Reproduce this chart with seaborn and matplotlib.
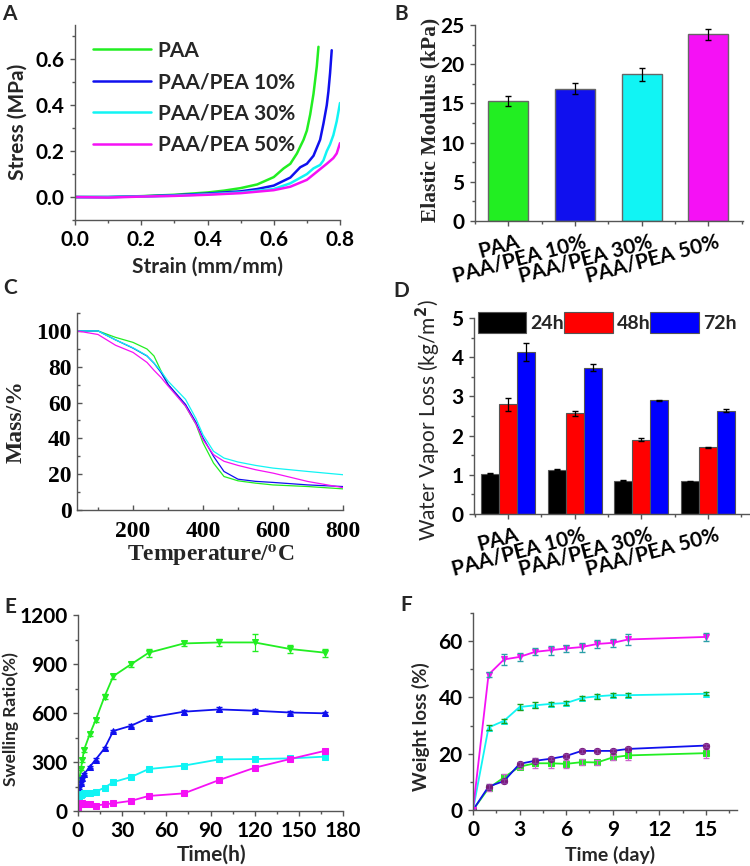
"""
Hydrogel characterisation panels (A-F) redrawn with seaborn
"""

import numpy as np
import pandas as pd
import matplotlib
matplotlib.use('Agg')
import matplotlib.pyplot as plt
import matplotlib.transforms as mtransforms
from matplotlib.ticker import MultipleLocator
import seaborn as sns

# ---------------- data ----------------
groups = ['PAA', 'PAA/PEA 10%', 'PAA/PEA 30%', 'PAA/PEA 50%']
colors = ['#22ee22', '#1010ee', '#11f4f4', '#f511f5']

# A: stress-strain
strain_paa = [0.0, 0.1, 0.2, 0.3, 0.4, 0.45, 0.5, 0.55, 0.6, 0.63, 0.65, 0.67, 0.69, 0.70, 0.71, 0.72, 0.73, 0.735]
stress_paa = [0.0, 0.0, 0.004, 0.01, 0.02, 0.028, 0.039, 0.055, 0.087, 0.125, 0.145, 0.19, 0.25, 0.29, 0.36, 0.45, 0.57, 0.655]
strain_10 = [0.0, 0.1, 0.2, 0.3, 0.4, 0.5, 0.55, 0.6, 0.65, 0.68, 0.70, 0.72, 0.74, 0.75, 0.76, 0.765, 0.77, 0.775]
stress_10 = [0.0, 0.0, 0.003, 0.008, 0.015, 0.025, 0.035, 0.05, 0.085, 0.13, 0.145, 0.18, 0.25, 0.32, 0.40, 0.46, 0.54, 0.64]
strain_30 = [0.0, 0.1, 0.2, 0.3, 0.4, 0.5, 0.6, 0.65, 0.70, 0.72, 0.74, 0.75, 0.76, 0.77, 0.78, 0.79, 0.80]
stress_30 = [0.0, 0.0, 0.002, 0.006, 0.012, 0.02, 0.035, 0.06, 0.10, 0.125, 0.14, 0.16, 0.2, 0.23, 0.27, 0.33, 0.41]
strain_50 = [0.0, 0.1, 0.2, 0.3, 0.4, 0.5, 0.6, 0.65, 0.70, 0.73, 0.76, 0.78, 0.79, 0.80]
stress_50 = [0.0, -0.002, 0.002, 0.005, 0.01, 0.017, 0.03, 0.045, 0.075, 0.11, 0.145, 0.17, 0.19, 0.235]

# B: elastic modulus
modulus = [15.3, 16.9, 18.7, 23.8]
modulus_err = [0.6, 0.7, 0.8, 0.7]

# C: TGA
temp = [40, 100, 150, 200, 240, 260, 280, 300, 350, 380, 400, 430, 460, 500, 550, 600, 700, 800]
mass_paa = [100, 100, 96.4, 93.6, 89.9, 86.0, 77.7, 70.2, 58.0, 47.8, 37.5, 26.2, 18.7, 16.3, 15.0, 14.0, 13.1, 11.8]
mass_10 = [100, 100, 95.0, 90.4, 86.0, 82.0, 76.8, 70.2, 59.0, 49.0, 40.3, 30.0, 21.5, 17.2, 16.0, 15.4, 14.0, 13.1]
mass_30 = [100, 100, 95.0, 90.6, 86.2, 82.0, 77.5, 72.0, 61.8, 51.0, 42.0, 32.8, 29.0, 26.8, 24.9, 23.4, 21.5, 19.7]
mass_50 = [100, 98.0, 92.0, 88.0, 82.4, 78.0, 74.0, 69.3, 58.0, 48.0, 39.3, 30.9, 27.2, 24.9, 22.5, 20.6, 15.9, 12.5]

# D: water vapour loss
wvl_times = ['24h', '48h', '72h']
wvl_24 = [1.03, 1.13, 0.85, 0.83]
wvl_48 = [2.80, 2.57, 1.90, 1.70]
wvl_72 = [4.14, 3.73, 2.90, 2.64]
wvl_24_err = [0.01, 0.02, 0.01, 0.01]
wvl_48_err = [0.17, 0.06, 0.04, 0.02]
wvl_72_err = [0.23, 0.09, 0.02, 0.03]

# E: swelling
swell_t = [0, 1, 2, 3, 4, 8, 12, 18, 24, 36, 48, 72, 96, 120, 144, 168]
swell_paa = [150, 200, 260, 310, 372, 471, 557, 700, 826, 898, 969, 1026, 1032, 1032, 992, 969]
swell_10 = [60, 140, 170, 205, 225, 270, 315, 383, 490, 522, 571, 608, 622, 614, 603, 598]
swell_30 = [40, 70, 95, 105, 108, 112, 118, 143, 177, 208, 257, 278, 316, 318, 322, 333]
swell_50 = [15, 40, 45, 48, 45, 42, 33, 41, 47, 62, 92, 108, 190, 265, 318, 369]
swell_paa_err = [10, 10, 12, 12, 12, 12, 15, 15, 15, 15, 25, 15, 20, 50, 25, 25]
swell_10_err = [5, 5, 6, 6, 6, 8, 8, 8, 8, 10, 10, 12, 12, 10, 10, 8]
swell_30_err = [4, 4, 4, 4, 4, 5, 5, 5, 6, 6, 6, 6, 6, 6, 6, 6]
swell_50_err = [3, 3, 3, 3, 3, 3, 3, 3, 4, 4, 5, 5, 6, 6, 6, 6]

# F: degradation
deg_t = [0, 1, 2, 3, 4, 5, 6, 7, 8, 9, 10, 15]
deg_paa = [0, 7.7, 11.6, 15.4, 16.6, 16.6, 16.4, 17.0, 16.9, 18.7, 19.4, 20.2]
deg_10 = [0, 8.3, 10.3, 16.4, 17.5, 18.2, 19.2, 21.0, 21.0, 21.0, 21.7, 22.9]
deg_30 = [0, 29.3, 31.7, 36.6, 37.2, 37.7, 38.0, 39.8, 40.4, 40.8, 40.8, 41.3]
deg_50 = [0, 48.1, 53.5, 54.4, 56.2, 56.8, 57.4, 57.9, 59.0, 59.4, 60.6, 61.5]
deg_paa_err = [0, 1.0, 1.2, 0.8, 1.6, 1.8, 1.4, 1.0, 1.0, 1.0, 1.5, 1.6]
deg_10_err = [0, 0.8, 0.6, 0.8, 0.8, 0.6, 0.6, 0.6, 0.6, 0.5, 0.6, 0.6]
deg_30_err = [0, 1.0, 0.8, 1.0, 1.0, 0.8, 0.8, 0.8, 0.8, 0.7, 0.7, 0.5]
deg_50_err = [0, 1.0, 1.8, 1.5, 1.2, 1.6, 1.4, 1.6, 1.3, 1.5, 2.0, 1.5]

# ---------------- style ----------------
sns.set_theme(style='ticks')
SANS = ['Lato', 'DejaVu Sans']
SERIF = ['Liberation Serif', 'DejaVu Serif']
plt.rcParams['font.family'] = SANS
plt.rcParams['font.weight'] = 'bold'
plt.rcParams['axes.labelweight'] = 'bold'
plt.rcParams['axes.edgecolor'] = '#555555'
plt.rcParams['axes.linewidth'] = 1.0
plt.rcParams['xtick.color'] = '#555555'
plt.rcParams['ytick.color'] = '#555555'
plt.rcParams['xtick.labelcolor'] = 'black'
plt.rcParams['ytick.labelcolor'] = 'black'

W, H = 750, 866
FS = 15


def box(l, t, r, b):
    return [l / W, 1 - b / H, (r - l) / W, (b - t) / H]


def style_axes(ax, direction='out', serif=False, size=FS):
    sns.despine(ax=ax)
    ax.tick_params(which='major', direction=direction, length=3.5, width=1, labelsize=size, pad=4)
    ax.tick_params(which='minor', direction=direction, length=2, width=1)
    fam = SERIF if serif else SANS
    for lab in ax.get_xticklabels() + ax.get_yticklabels():
        lab.set_family(fam)
        lab.set_weight('bold')


def place_labels(ax, box_px, ylab_right, ylab_cy, xlab_top=None, xlab_cx=None):
    l, t, r, b = box_px
    ax.yaxis.set_label_coords((ylab_right - l) / (r - l), (b - ylab_cy) / (b - t))
    if xlab_top is not None:
        ax.xaxis.set_label_coords((xlab_cx - l) / (r - l), (b - xlab_top) / (b - t))


def group_ticklabels(ax):
    ax.set_xticks(range(4), groups, rotation=15, ha='right', rotation_mode='anchor',
                  fontsize=FS, weight='bold')
    shift = mtransforms.ScaledTranslation(8 / 100, 0, fig.dpi_scale_trans)
    for lab in ax.get_xticklabels():
        lab.set_transform(lab.get_transform() + shift)


fig = plt.figure(figsize=(W / 100, H / 100), dpi=100)

# ---------------- A ----------------
bA = (75, 25, 340, 220)
axA = fig.add_axes(box(*bA))
curves = [(strain_paa, stress_paa), (strain_10, stress_10), (strain_30, stress_30), (strain_50, stress_50)]
for (sx, sy), c, g in zip(curves, colors, groups):
    sns.lineplot(x=sx, y=sy, color=c, linewidth=1.8, label=g, ax=axA)
axA.set_xlim(0, 0.8)
axA.set_ylim(-0.1, 0.75)
axA.xaxis.set_minor_locator(MultipleLocator(0.1))
axA.yaxis.set_minor_locator(MultipleLocator(0.1))
axA.set_xticks([0, 0.2, 0.4, 0.6, 0.8], ['0.0', '0.2', '0.4', '0.6', '0.8'])
axA.set_yticks([0, 0.2, 0.4, 0.6], ['0.0', '0.2', '0.4', '0.6'])
axA.set_xlabel('Strain (mm/mm)', fontsize=FS)
axA.set_ylabel('Stress (MPa)', fontsize=FS)
style_axes(axA)
place_labels(axA, bA, 28, 122, 257, 207)
leg = axA.legend(loc='upper left', bbox_to_anchor=(0.068, 0.92), frameon=False,
                 fontsize=FS, handlelength=2.8, handletextpad=0.3, labelspacing=0.55,
                 borderaxespad=0, borderpad=0)
for t in leg.get_texts():
    t.set_weight('bold')

# ---------------- B ----------------
bB = (475, 25, 743, 221)
axB = fig.add_axes(box(*bB))
dfB = pd.DataFrame({'group': groups, 'modulus': modulus})
sns.barplot(data=dfB, x='group', y='modulus', hue='group', palette=colors, width=0.6,
            saturation=1, edgecolor='#666666', linewidth=1, legend=False, ax=axB)
xs = [p.get_x() + p.get_width() / 2 for p in axB.patches]
axB.errorbar(xs, modulus, yerr=modulus_err, fmt='none', ecolor='black', elinewidth=0.9, capsize=2.5)
axB.set_xlim(-0.495, 3.52)
axB.set_ylim(0, 25)
axB.yaxis.set_major_locator(MultipleLocator(5))
axB.yaxis.set_minor_locator(MultipleLocator(2.5))
axB.set_xticks([-0.5, 0.5, 1.5, 2.5, 3.5], minor=True)
axB.set_xlabel('')
axB.set_ylabel('Elastic Modulus (kPa)', fontsize=15.5, family=SERIF, weight='bold')
style_axes(axB)
group_ticklabels(axB)
place_labels(axB, bB, 440, 120)

# ---------------- C ----------------
bC = (77, 313, 343, 510)
axC = fig.add_axes(box(*bC))
tga = [mass_paa, mass_10, mass_30, mass_50]
for m, c in zip(tga, colors):
    sns.lineplot(x=temp, y=m, color=c, linewidth=0.9, ax=axC)
axC.set_xlim(40, 800)
axC.set_ylim(0, 110)
axC.xaxis.set_minor_locator(MultipleLocator(100))
axC.yaxis.set_minor_locator(MultipleLocator(10))
axC.set_yticks([0, 20, 40, 60, 80, 100])
axC.set_xticks([200, 400, 600, 800])
axC.set_xlabel(r'Temperature/$^{\mathbf{o}}$C', fontsize=17, family=SERIF, weight='bold',
               math_fontfamily='stix')
axC.set_ylabel('Mass/%', fontsize=17, family=SERIF, weight='bold')
style_axes(axC, direction='in', serif=True, size=17)
axC.tick_params(axis='x', pad=8)
place_labels(axC, bC, 27, 422, 543, 211)

# ---------------- D ----------------
bD = (474, 318, 750, 514)
axD = fig.add_axes(box(*bD))
dfD = pd.DataFrame({
    'group': groups * 3,
    'time': [t for t in wvl_times for _ in groups],
    'loss': wvl_24 + wvl_48 + wvl_72,
})
errD = wvl_24_err + wvl_48_err + wvl_72_err
sns.barplot(data=dfD, x='group', y='loss', hue='time', palette=['black', '#ff0000', '#0000ff'],
            width=0.81, saturation=1, edgecolor='#555555', linewidth=0.8, ax=axD)
bars = [p for cont in axD.containers for p in cont]
xs = [p.get_x() + p.get_width() / 2 for p in bars]
axD.errorbar(xs, dfD['loss'], yerr=errD, fmt='none', ecolor='black', elinewidth=0.9, capsize=2.5)
axD.set_xlim(-0.51, 3.63)
axD.set_ylim(0, 5)
axD.yaxis.set_major_locator(MultipleLocator(1))
axD.yaxis.set_minor_locator(MultipleLocator(0.5))
axD.set_xticks([-0.5, 0.5, 1.5, 2.5, 3.5], minor=True)
axD.set_xlabel('')
axD.set_ylabel(r'Water Vapor Loss (kg/m$^{2}$)', fontsize=FS, weight='normal')
style_axes(axD)
group_ticklabels(axD)
place_labels(axD, bD, 443, 420)
handles, labels = axD.get_legend_handles_labels()
legD = axD.legend(handles, labels, loc='upper left', bbox_to_anchor=(0.014, 1.03), ncol=3,
                  frameon=False, fontsize=14, handlelength=2.5, handleheight=1.3,
                  handletextpad=0.2, columnspacing=0.0, borderaxespad=0, borderpad=0)
for t in legD.get_texts():
    t.set_weight('bold')

# ---------------- E ----------------
bE = (78, 615, 343, 811)
axE = fig.add_axes(box(*bE))
swell = [(swell_paa, swell_paa_err, 'v'), (swell_10, swell_10_err, '^'),
         (swell_30, swell_30_err, 's'), (swell_50, swell_50_err, 's')]
for (v, e, mk), c in zip(swell, colors):
    sns.lineplot(x=swell_t, y=v, color=c, linewidth=1.3, marker=mk, markersize=5,
                 markeredgecolor=c, ax=axE)
    axE.errorbar(swell_t, v, yerr=e, fmt='none', ecolor=c, elinewidth=0.8, capsize=2.5)
axE.set_xlim(0, 180)
axE.set_ylim(0, 1200)
axE.xaxis.set_major_locator(MultipleLocator(30))
axE.xaxis.set_minor_locator(MultipleLocator(15))
axE.yaxis.set_major_locator(MultipleLocator(300))
axE.yaxis.set_minor_locator(MultipleLocator(150))
axE.set_xlabel('Time(h)', fontsize=FS)
axE.set_ylabel('Swelling Ratio(%)', fontsize=12.5)
style_axes(axE)
place_labels(axE, bE, 19, 719, 845, 212)

# ---------------- F ----------------
bF = (473, 613, 737, 810)
axF = fig.add_axes(box(*bF))
deg = [(deg_paa, deg_paa_err, 's', '#cc66cc', '#22ee22'),
       (deg_10, deg_10_err, 'o', '#8a3aa0', '#7a1a7a'),
       (deg_30, deg_30_err, '^', '#1aa01a', '#11f4f4'),
       (deg_50, deg_50_err, 'v', '#2aa0a8', '#f511f5')]
for (v, e, mk, ec, mf), c in zip(deg, colors):
    sns.lineplot(x=deg_t, y=v, color=c, linewidth=1.3, marker=mk, markersize=4.5,
                 markerfacecolor=mf, markeredgecolor=mf, ax=axF)
    axF.errorbar(deg_t, v, yerr=e, fmt='none', ecolor=ec, elinewidth=0.8, capsize=2.5)
axF.set_xlim(0, 17)
axF.set_ylim(0, 70)
axF.set_xticks([0, 3, 6, 9, 12, 15])
axF.xaxis.set_minor_locator(MultipleLocator(1.5))
axF.yaxis.set_major_locator(MultipleLocator(20))
axF.yaxis.set_minor_locator(MultipleLocator(10))
axF.set_xlabel('Time (day)', fontsize=14)
axF.set_ylabel('Weight loss (%)', fontsize=13.5)
style_axes(axF)
place_labels(axF, bF, 430, 727, 846, 610)

# ---------------- panel letters ----------------
for letter, (px, py) in zip('ABCDEF', [(2, 4), (394, 4), (3, 278), (393, 281), (4, 597), (400, 595)]):
    fig.text(px / W, 1 - py / H, letter, fontsize=15, weight='bold', family=SANS,
             ha='left', va='top')

fig.savefig('out.png', dpi=100)
